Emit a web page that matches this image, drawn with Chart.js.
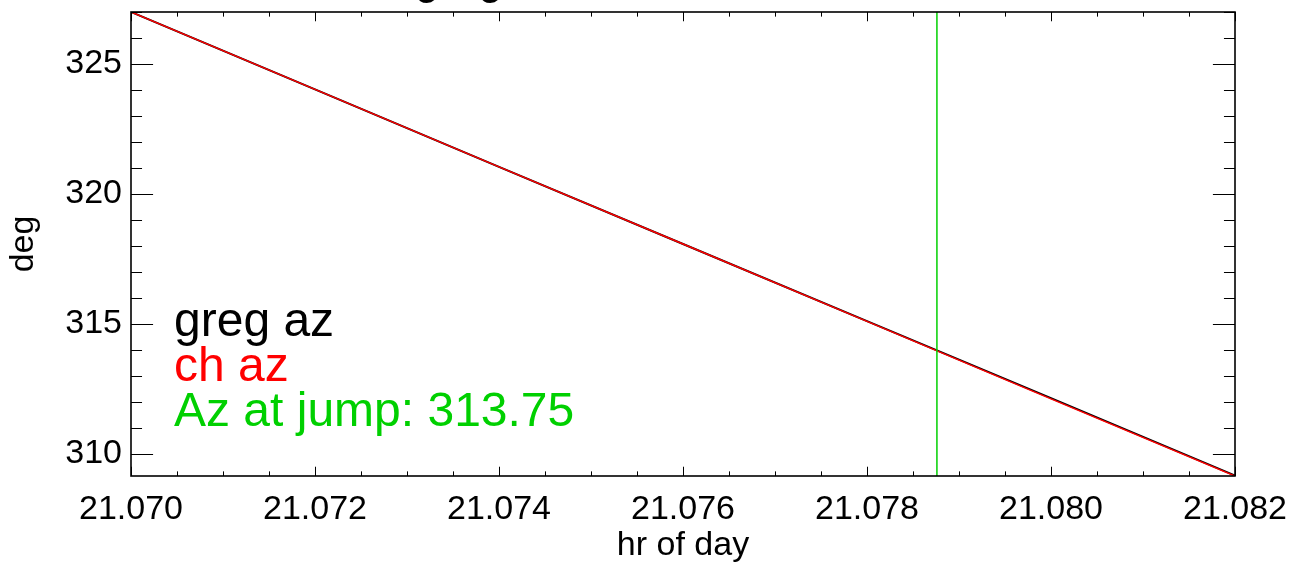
<!DOCTYPE html>
<html>
<head>
<meta charset="utf-8">
<script src="https://cdn.jsdelivr.net/npm/chart.js@4.4.1/dist/chart.umd.min.js"></script>
<style>
  body { margin: 0; background: #fff; }
  canvas { display: block; }
</style>
</head>
<body>
<canvas id="azPlot" width="1308" height="568"></canvas>
<script>
// values
const hrOfDay = [21.070, 21.072, 21.074, 21.076, 21.078, 21.080, 21.082];
const chAz = [327.00, 324.02, 321.04, 318.07, 315.09, 312.11, 309.14];
const gregAz = [327.00, 324.02, 321.04, 318.07, 315.10, 312.14, 309.16];
const jumpHr = 21.07876;
const jumpAz = 313.75;
const xTicks = [21.070, 21.072, 21.074, 21.076, 21.078, 21.080, 21.082];
const yTicks = [310, 315, 320, 325];
const xRange = [21.070, 21.082];
const yRange = [309.14, 327.0];

const FONT = "'Liberation Sans', Arial, Helvetica, sans-serif";
const GREEN = "rgb(0,208,0)";

function toPts(xs, ys) {
  return xs.map((x, i) => ({ x: x, y: ys[i] }));
}

// box, inward ticks on all four sides, annotations
const idlFrame = {
  id: "idlFrame",
  afterDatasetsDraw(chart) {
    const ctx = chart.ctx;
    const a = chart.chartArea;
    const xs = chart.scales.x, ys = chart.scales.y;
    const w = a.right - a.left, h = a.bottom - a.top;
    const xMaj = 0.02 * h, yMaj = 0.02 * w;
    ctx.save();
    ctx.strokeStyle = "#000";
    ctx.lineWidth = 1;
    ctx.beginPath();
    // x ticks
    for (let k = 0; k <= 24; k++) {
      const v = xRange[0] + k * 0.0005;
      const px = Math.round(xs.getPixelForValue(v)) + 0.5;
      const len = k % 4 === 0 ? xMaj : xMaj / 2;
      ctx.moveTo(px, a.bottom); ctx.lineTo(px, a.bottom - len);
      ctx.moveTo(px, a.top); ctx.lineTo(px, a.top + len);
    }
    // y ticks
    for (let v = Math.ceil(yRange[0]); v <= yRange[1]; v++) {
      const py = Math.round(ys.getPixelForValue(v)) + 0.5;
      const len = v % 5 === 0 ? yMaj : yMaj / 2;
      ctx.moveTo(a.left, py); ctx.lineTo(a.left + len, py);
      ctx.moveTo(a.right, py); ctx.lineTo(a.right - len, py);
    }
    ctx.stroke();
    ctx.lineWidth = 1.6;
    ctx.strokeRect(a.left, a.top, w, h);

    // labels
    ctx.font = "48px " + FONT;
    ctx.textAlign = "left";
    ctx.textBaseline = "alphabetic";
    ctx.fillStyle = "#000";
    ctx.fillText("greg az", 174, 336);
    ctx.fillStyle = "#ff0000";
    ctx.fillText("ch az", 174, 381);
    ctx.fillStyle = GREEN;
    ctx.fillText("Az at jump: " + jumpAz.toFixed(2), 174, 426);

    // title, mostly above the canvas
    ctx.font = "44px " + FONT;
    ctx.fillStyle = "#000";
    ctx.fillText("greg", 415, -6);
    ctx.restore();
  }
};

new Chart(document.getElementById("azPlot"), {
  type: "scatter",
  data: {
    datasets: [
      {
        label: "greg az",
        data: toPts(hrOfDay, gregAz),
        showLine: true,
        borderColor: "#000",
        borderWidth: 2,
        pointRadius: 0,
        order: 3
      },
      {
        label: "ch az",
        data: toPts(hrOfDay, chAz),
        showLine: true,
        borderColor: "#ff0000",
        borderWidth: 1.5,
        pointRadius: 0,
        order: 2
      },
      {
        label: "jump",
        data: [{ x: jumpHr, y: yRange[0] }, { x: jumpHr, y: yRange[1] }],
        showLine: true,
        borderColor: GREEN,
        borderWidth: 1.5,
        pointRadius: 0,
        order: 1
      }
    ]
  },
  options: {
    responsive: false,
    animation: false,
    devicePixelRatio: 1,
    layout: { padding: { left: 0, right: 73, top: 12, bottom: 0 } },
    plugins: {
      legend: { display: false },
      tooltip: { enabled: false },
      title: { display: false }
    },
    scales: {
      x: {
        type: "linear",
        position: "bottom",
        min: xRange[0],
        max: xRange[1],
        grid: { display: false, drawTicks: false },
        border: { display: false },
        afterBuildTicks: (s) => { s.ticks = xTicks.map(v => ({ value: v })); },
        afterFit: (s) => { s.height = 92; s.paddingLeft = 0; s.paddingRight = 0; },
        ticks: {
          autoSkip: false,
          maxRotation: 0,
          padding: 13,
          color: "#000",
          font: { family: FONT, size: 34 },
          callback: (v) => Number(v).toFixed(3)
        },
        title: {
          display: true,
          text: "hr of day",
          color: "#000",
          font: { family: FONT, size: 34 },
          padding: { top: 0, bottom: 2 }
        }
      },
      y: {
        type: "linear",
        position: "left",
        min: yRange[0],
        max: yRange[1],
        grid: { display: false, drawTicks: false },
        border: { display: false },
        afterBuildTicks: (s) => { s.ticks = yTicks.map(v => ({ value: v })); },
        afterFit: (s) => { s.width = 131; s.paddingTop = 0; s.paddingBottom = 0; },
        ticks: {
          autoSkip: false,
          padding: 9,
          color: "#000",
          font: { family: FONT, size: 34 }
        },
        title: {
          display: true,
          text: "deg",
          color: "#000",
          font: { family: FONT, size: 34 },
          padding: { top: 3, bottom: 0 }
        }
      }
    }
  },
  plugins: [idlFrame]
});
</script>
</body>
</html>
